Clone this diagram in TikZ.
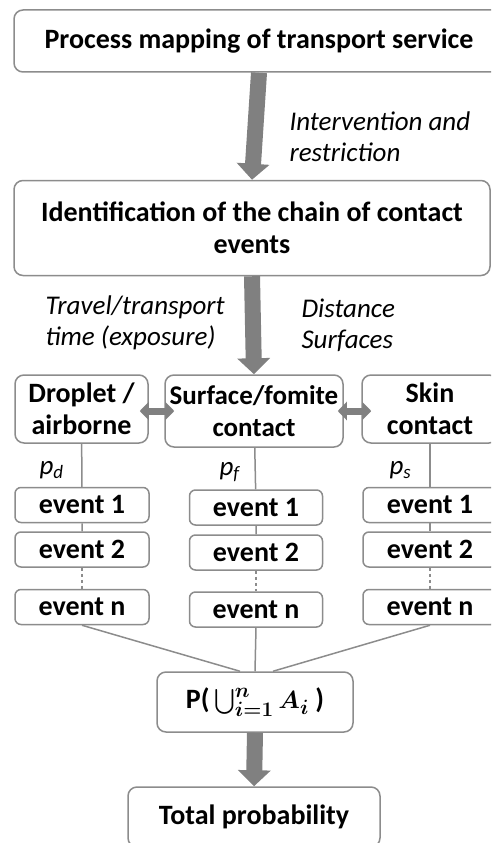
\documentclass[tikz,border=0pt]{standalone}
\usepackage{exscale}
\usepackage{fontspec}
\setmainfont{Carlito}
\usetikzlibrary{positioning, arrows.meta, calc}

\definecolor{boxline}{HTML}{8C8C8C}
\definecolor{arrowfill}{HTML}{808080}

\tikzset{
  box/.style={draw=boxline, line width=1.5pt, rounded corners=9pt, fill=white,
    align=center, inner sep=2pt, font=\bfseries\boldmath\fontsize{28}{32}\selectfont},
  evbox/.style={box, rounded corners=6pt, minimum width=134pt, minimum height=35pt},
  note/.style={align=left, font=\itshape\fontsize{27}{31}\selectfont},
  link/.style={draw=boxline, line width=1.5pt},
  fatarrow/.style={draw=arrowfill, line width=16pt,
    -{Triangle[length=16pt 0 0, width=32pt 0 0]}},
  dblarrow/.style={draw=arrowfill, line width=7pt,
    {Triangle[length=9pt 0 0, width=18pt 0 0]}-{Triangle[length=9pt 0 0, width=18pt 0 0]}}
}

\begin{document}
\begin{tikzpicture}[x=1pt, y=-1pt]
    \clip (0,0) rectangle (491,843);
    % Top of the chain
    \node[box, minimum width=490pt, minimum height=62pt] (map) at (259,41) {Process mapping of transport service};
    \node[box, minimum width=476pt, minimum height=95pt] (chain) at (252,228) {Identification of the chain of contact\\events};
    % Contact routes
    \node[box, minimum width=133pt, minimum height=68pt] (drop) at (81.5,409) {Droplet /\\airborne};
    \node[box, minimum width=178pt, minimum height=72pt, font=\bfseries\fontsize{27}{32}\selectfont] (surf) at (254,411) {Surface/fomite\\contact};
    \node[box, minimum width=136pt, minimum height=68pt] (skin) at (430,409) {Skin\\contact};
    % Events per route
    \node[evbox] (d1) at (82,505) {event 1};
    \node[evbox] (d2) at (82,549.5) {event 2};
    \node[evbox] (dn) at (82,607) {event n};
    \node[evbox, minimum width=133pt] (f1) at (256,507.5) {event 1};
    \node[evbox, minimum width=133pt] (f2) at (256,552.5) {event 2};
    \node[evbox, minimum width=133pt] (fn) at (256,609.5) {event n};
    \node[evbox] (s1) at (430,505) {event 1};
    \node[evbox] (s2) at (430,549.5) {event 2};
    \node[evbox] (sn) at (430,607) {event n};
    % Union and result
    \node[box, minimum width=196pt, minimum height=60pt] (union) at (255,702) {P(\,$\bigcup_{i=1}^{n} A_i$ )};
    \node[box, minimum width=252pt, minimum height=60pt] (total) at (254,817) {Total probability};
    % Thick arrows
    \draw[fatarrow] (map.south) -- (chain.north);
    \draw[fatarrow] (chain.south) -- (surf.north);
    \draw[fatarrow] (union.south) -- (total.north);
    \draw[dblarrow] ([xshift=-9pt]drop.east |- surf.west) -- ([xshift=10pt]surf.west);
    \draw[dblarrow] ([xshift=-6pt]surf.east) -- ([xshift=10pt]skin.west |- surf.east);
    % Chains of events
    \draw[link] (drop) -- (d1) (d1) -- (d2);
    \draw[link, dashed] (d2) -- (dn);
    \draw[link] (surf) -- (f1) (f1) -- (f2);
    \draw[link, dashed] (f2) -- (fn);
    \draw[link] (skin) -- (s1) (s1) -- (s2);
    \draw[link, dashed] (s2) -- (sn);
    \coordinate (uleft) at ([xshift=-15pt]union.north);
    \coordinate (uright) at ([xshift=18pt]union.north);
    \draw[link] (dn.south) -- (uleft);
    \draw[link] (fn.south) -- (union.north);
    \draw[link] (sn.south) -- (uright);
    % Labels
    \node[note, anchor=west] (interv) at (286,137) {Intervention and\\restriction};
    \node[note, anchor=west] (travel) at (42,323) {Travel/transport\\time (exposure)};
    \node[note, anchor=west] (dist) at (298,325) {Distance\\Surfaces};
    \node[note, anchor=west] (pd) at (36,470) {\textit{p}\textsubscript{\textit{d}}};
    \node[note, anchor=west] (pf) at (216,472) {\textit{p}\textsubscript{\textit{f}}};
    \node[note, anchor=west] (ps) at (386,470) {\textit{p}\textsubscript{\textit{s}}};
\end{tikzpicture}
\end{document}
